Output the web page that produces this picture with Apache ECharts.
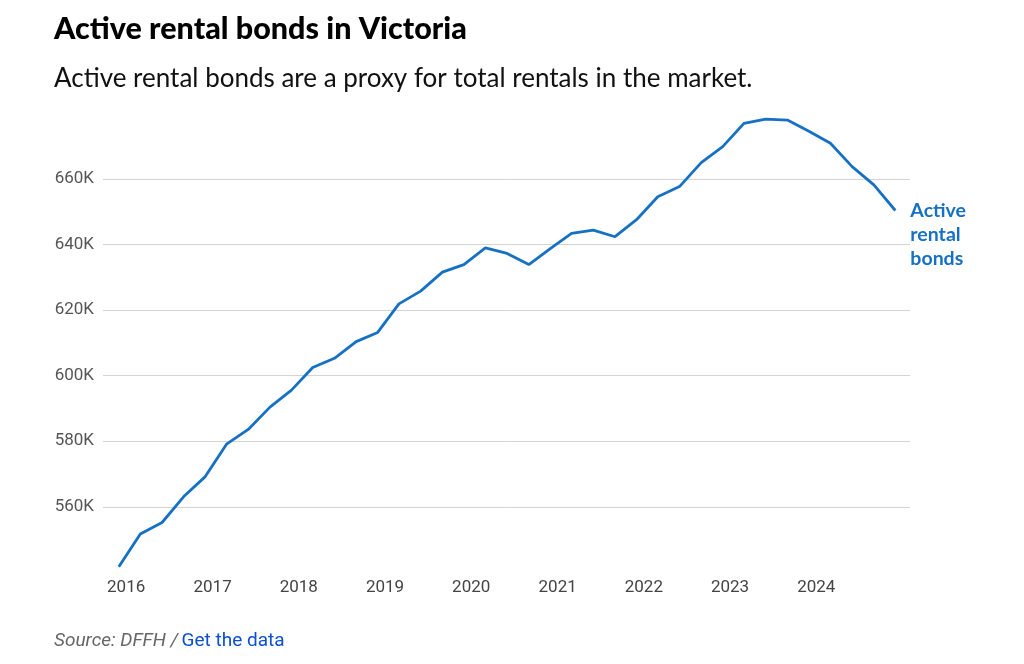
<!DOCTYPE html>
<html style="height: 100%">
<head>
    <meta charset="utf-8">
    <title>Active rental bonds in Victoria</title>
</head>
<body style="height: 100%; margin: 0; background: #fff">
<div id="container" style="width: 1024px; height: 664px"></div>
<script type="text/javascript" src="https://cdn.jsdelivr.net/npm/echarts@6/dist/echarts.min.js"></script>
<script type="text/javascript">
// quarterly readings, first month of each reading
var dates = [
    '2015-12-01', '2016-03-01', '2016-06-01', '2016-09-01',
    '2016-12-01', '2017-03-01', '2017-06-01', '2017-09-01',
    '2017-12-01', '2018-03-01', '2018-06-01', '2018-09-01',
    '2018-12-01', '2019-03-01', '2019-06-01', '2019-09-01',
    '2019-12-01', '2020-03-01', '2020-06-01', '2020-09-01',
    '2020-12-01', '2021-03-01', '2021-06-01', '2021-09-01',
    '2021-12-01', '2022-03-01', '2022-06-01', '2022-09-01',
    '2022-12-01', '2023-03-01', '2023-06-01', '2023-09-01',
    '2023-12-01', '2024-03-01', '2024-06-01', '2024-09-01',
    '2024-12-01'
];
// active bonds, thousands
var bonds = [
    541.7, 551.7, 555.2, 563.1,
    569.2, 579.1, 583.6, 590.4,
    595.6, 602.5, 605.3, 610.4,
    613.2, 621.9, 625.8, 631.6,
    633.9, 639.0, 637.3, 633.9,
    638.8, 643.4, 644.4, 642.4,
    647.6, 654.6, 657.7, 665.0,
    669.9, 677.0, 678.3, 678.0,
    674.6, 670.9, 663.8, 658.2,
    650.4
];
var lastYearLabel = 2024;
var seriesName = 'Active\nrental\nbonds';

var lineColor = '#1670c4';
var oneYear = 365 * 24 * 3600 * 1000;

var dom = document.getElementById('container');
var myChart = echarts.init(dom);

var points = [];
for (var i = 0; i < dates.length; i++) {
    points.push([dates[i], bonds[i]]);
}

var option = {
    animation: false,
    title: [{
        text: 'Active rental bonds in Victoria',
        left: 49,
        top: 9,
        textStyle: {
            fontFamily: 'Lato',
            fontWeight: 900,
            fontSize: 30.5,
            color: '#000'
        }
    }, {
        text: 'Active rental bonds are a proxy for total rentals in the market.',
        left: 49,
        top: 61,
        textStyle: {
            fontFamily: 'Lato',
            fontWeight: 'normal',
            fontSize: 26,
            color: '#111'
        }
    }],
    grid: {
        left: 103,
        right: 114,
        top: 113.5,
        bottom: 91.7,
        containLabel: false
    },
    xAxis: {
        type: 'time',
        min: +new Date(2015, 8, 25),
        max: +new Date(2025, 1, 1),
        minInterval: oneYear,
        maxInterval: oneYear + 2 * 24 * 3600 * 1000,
        axisLine: { show: false },
        axisTick: { show: false },
        splitLine: { show: false },
        axisLabel: {
            formatter: function (v) {
                var y = new Date(v).getFullYear();
                return y > lastYearLabel ? '' : String(y);
            },
            color: '#444',
            fontFamily: 'Roboto',
            fontSize: 17,
            margin: 7,
            showMinLabel: false,
            showMaxLabel: false
        }
    },
    yAxis: {
        type: 'value',
        min: 540,
        max: 680,
        interval: 20,
        axisLine: { show: false },
        axisTick: { show: false },
        splitLine: {
            show: true,
            showMinLine: false,
            showMaxLine: false,
            lineStyle: { color: '#d4d4d4', width: 1 }
        },
        axisLabel: {
            formatter: function (v) { return v + 'K'; },
            showMinLabel: false,
            showMaxLabel: false,
            color: '#555',
            fontFamily: 'Roboto',
            fontSize: 17,
            margin: 9
        }
    },
    series: [{
        name: seriesName,
        type: 'line',
        data: points,
        showSymbol: false,
        lineStyle: { color: lineColor, width: 2.8 },
        endLabel: {
            show: true,
            formatter: '{a}',
            color: lineColor,
            fontFamily: 'Lato',
            fontWeight: 'bold',
            fontSize: 19.5,
            lineHeight: 24,
            align: 'left',
            verticalAlign: 'top',
            distance: 0,
            offset: [15, -12]
        }
    }],
    graphic: [{
        type: 'text',
        left: 54,
        top: 632,
        style: {
            text: '{src|Source: DFFH /} {link|Get the data}',
            rich: {
                src: {
                    fontFamily: 'Roboto',
                    fontStyle: 'italic',
                    fontSize: 19,
                    fill: '#666'
                },
                link: {
                    fontFamily: 'Roboto',
                    fontSize: 19,
                    fill: '#0b4fd0'
                }
            }
        }
    }]
};

if (option && typeof option === 'object') {
    myChart.setOption(option);
}
</script>
</body>
</html>
